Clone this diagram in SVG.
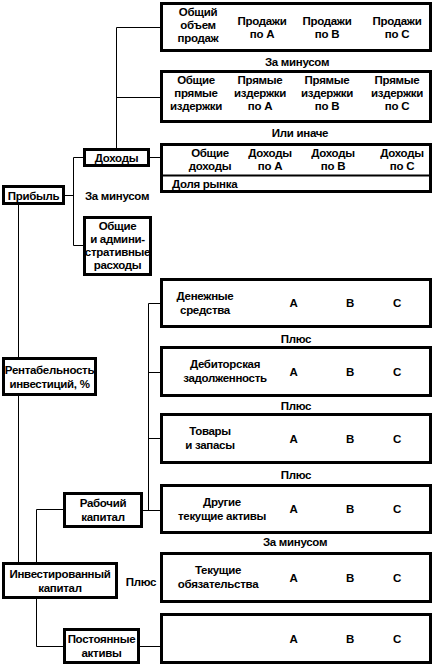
<svg xmlns="http://www.w3.org/2000/svg" width="434" height="668" viewBox="0 0 434 668">
<style>
text{font-family:"Liberation Sans",Arial,sans-serif;font-size:11.5px;letter-spacing:-0.3px;font-weight:bold;fill:#000;text-anchor:middle}
.l{text-anchor:start}
.b{fill:#fff;stroke:#000;stroke-width:3}
.c{stroke:#000;stroke-width:1;fill:none}
</style>
<rect width="434" height="668" fill="#fff"/>
<g id="connectors" class="c">
<path d="M116.5,27.5V148M116.5,27.5H160M116.5,97.5H160"/>
<path d="M150,157.5H160"/>
<path d="M65,195.5H73.5M73.5,157.5V245.5M73.5,157.5H83M73.5,245.5H83"/>
<path d="M18.5,205V357M18.5,396V562"/>
<path d="M36.5,509.5V646.5M36.5,509.5H63M36.5,646.5H63"/>
<path d="M140,646.5H160"/>
<path d="M148.5,303.5V510M148.5,303.5H160M148.5,372.5H160M148.5,438.5H160M143,510.5H160"/>
</g>
<g id="n-sales">
<rect class="b" x="161.5" y="3.5" width="269" height="47"/>
<text x="198" y="16">Общий</text><text x="198" y="29">объем</text><text x="198" y="42">продаж</text>
<text x="262" y="25">Продажи</text><text x="262" y="38">по А</text>
<text x="327" y="25">Продажи</text><text x="327" y="38">по В</text>
<text x="397" y="25">Продажи</text><text x="397" y="38">по С</text>
</g>
<text x="297" y="66">За минусом</text>
<g id="n-costs">
<rect class="b" x="161.5" y="71.5" width="269" height="50"/>
<text x="196" y="84">Общие</text><text x="196" y="97">прямые</text><text x="196" y="110">издержки</text>
<text x="260" y="84">Прямые</text><text x="260" y="97">издержки</text><text x="260" y="110">по А</text>
<text x="327" y="84">Прямые</text><text x="327" y="97">издержки</text><text x="327" y="110">по В</text>
<text x="397" y="84">Прямые</text><text x="397" y="97">издержки</text><text x="397" y="110">по С</text>
</g>
<text x="300" y="137">Или иначе</text>
<g id="n-income">
<rect class="b" x="161.5" y="144.5" width="269" height="47"/>
<line x1="161" y1="175.5" x2="431" y2="175.5" stroke="#000" stroke-width="2"/>
<text x="210" y="157">Общие</text><text x="210" y="170">доходы</text>
<text x="270" y="157">Доходы</text><text x="270" y="170">по А</text>
<text x="333" y="157">Доходы</text><text x="333" y="170">по В</text>
<text x="402" y="157">Доходы</text><text x="402" y="170">по С</text>
<text class="l" x="172" y="188">Доля рынка</text>
</g>
<g id="n-dohody">
<rect class="b" x="84.5" y="149.5" width="64" height="16"/>
<text x="116.5" y="162">Доходы</text>
</g>
<g id="n-pribyl">
<rect class="b" x="3.5" y="186.5" width="60" height="17"/>
<text x="33.5" y="199.5">Прибыль</text>
</g>
<text x="117" y="199.5">За минусом</text>
<g id="n-admin">
<rect class="b" x="84.5" y="217.5" width="66" height="57"/>
<text x="117.5" y="230">Общие</text><text x="117.5" y="243">и админи-</text><text x="117.5" y="256">стративные</text><text x="117.5" y="269">расходы</text>
</g>
<g id="n-rent">
<rect class="b" x="3.5" y="358.5" width="92" height="36"/>
<text x="49.5" y="374">Рентабельность</text><text x="49.5" y="388">инвестиций, %</text>
</g>
<g id="n-cash">
<rect class="b" x="161.5" y="279.5" width="269" height="47"/>
<text x="205" y="300">Денежные</text><text x="205" y="314">средства</text>
<text x="293.5" y="307">A</text><text x="350" y="307">B</text><text x="397" y="307">C</text>
</g>
<text x="296" y="343">Плюс</text>
<g id="n-receiv">
<rect class="b" x="161.5" y="347.5" width="269" height="48"/>
<text x="225" y="368">Дебиторская</text><text x="225" y="382">задолженность</text>
<text x="293.5" y="375.5">A</text><text x="350" y="375.5">B</text><text x="397" y="375.5">C</text>
</g>
<text x="296" y="410">Плюс</text>
<g id="n-stock">
<rect class="b" x="161.5" y="414.5" width="269" height="48"/>
<text x="210" y="435">Товары</text><text x="210" y="449">и запасы</text>
<text x="293.5" y="442.5">A</text><text x="350" y="442.5">B</text><text x="397" y="442.5">C</text>
</g>
<text x="296" y="479">Плюс</text>
<g id="n-other">
<rect class="b" x="161.5" y="485.5" width="269" height="47"/>
<text x="222" y="506">Другие</text><text x="222" y="520">текущие активы</text>
<text x="293.5" y="513">A</text><text x="350" y="513">B</text><text x="397" y="513">C</text>
</g>
<text x="295" y="546">За минусом</text>
<g id="n-liab">
<rect class="b" x="161.5" y="553.5" width="269" height="48"/>
<text x="218" y="574">Текущие</text><text x="218" y="588">обязательства</text>
<text x="293.5" y="581.5">A</text><text x="350" y="581.5">B</text><text x="397" y="581.5">C</text>
</g>
<g id="n-fixed-row">
<rect class="b" x="161.5" y="614.5" width="269" height="48"/>
<text x="293.5" y="642.5">A</text><text x="350" y="642.5">B</text><text x="397" y="642.5">C</text>
</g>
<g id="n-work">
<rect class="b" x="64.5" y="493.5" width="77" height="33"/>
<text x="103" y="507">Рабочий</text><text x="103" y="521">капитал</text>
</g>
<g id="n-invest">
<rect class="b" x="3.5" y="563.5" width="113" height="34"/>
<text x="60" y="578">Инвестированный</text><text x="60" y="592">капитал</text>
</g>
<text x="141" y="586">Плюс</text>
<g id="n-fixed">
<rect class="b" x="64.5" y="629.5" width="74" height="33"/>
<text x="101.5" y="643">Постоянные</text><text x="101.5" y="657">активы</text>
</g>
</svg>
